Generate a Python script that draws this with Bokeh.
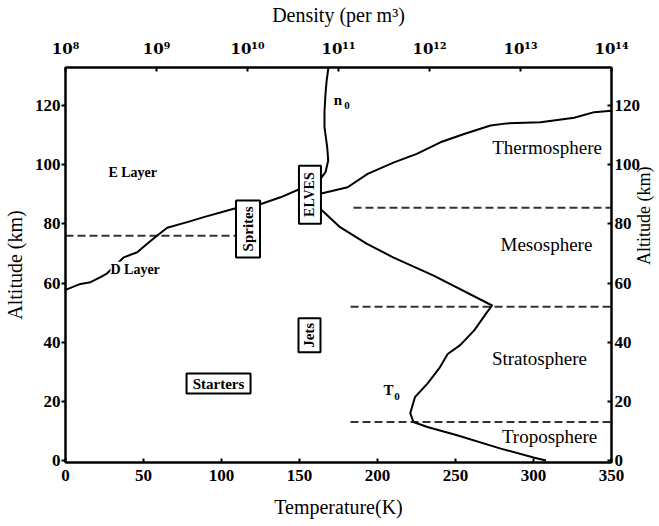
import numpy as np
from bokeh.plotting import figure
from bokeh.models import Range1d, LinearAxis, LogAxis, LogScale, FixedTicker
from bokeh.embed import file_html
from bokeh.resources import INLINE
from bokeh.core.properties import value
from bokeh.models import Label

# ---------------- data ----------------
# Temperature profile T0 (K) vs altitude (km)
t0_temp = [308, 300, 279, 251, 232, 223, 221, 224, 232, 240, 245, 253, 262, 270, 273.5,
           236, 210, 193, 176, 164.5, 158]
t0_alt = [0, 1, 4, 8.5, 11.3, 13, 16, 21.4, 26, 31.5, 36, 39, 44, 50, 52.4,
          62.5, 68.7, 73.3, 78.9, 84.5, 87]

# Ionisation (D / E layer -> thermosphere) curve on density axis: log10(density), altitude
ne_logd = [8.0, 8.165, 8.275, 8.385, 8.458, 8.641, 8.788, 8.898, 9.008, 9.118, 9.337,
           9.520, 9.849, 10.124, 10.363, 10.582, 10.80, 11.10, 11.32, 11.61, 11.86,
           12.12, 12.38, 12.67, 12.85, 13.22, 13.59, 13.81, 14.0]
ne_alt = [57.7, 59.7, 60.3, 62.0, 63.3, 68.7, 70.4, 73.3, 76.1, 78.7, 80.6,
          82.3, 85.1, 86.5, 89.0, 91.9, 90.2, 92.4, 96.9, 100.8, 103.7,
          107.6, 110.4, 113.3, 114.0, 114.4, 115.9, 117.8, 118.3]

# Neutral density n0: log10(density), altitude
n0_logd = [10.89, 10.87, 10.857, 10.846, 10.846, 10.876, 10.887, 10.857, 10.82, 10.78]
n0_alt = [133, 128.5, 124, 118, 112.7, 105.9, 101.4, 97.5, 96, 94]

# Dashed boundaries: altitude, start / end temperature
bound_alt = [76, 85.5, 52, 13]
bound_t0 = [0, 184.6, 182.7, 182.7]
bound_t1 = [109.4, 350, 350, 350]

# Region names
region_names = ["Thermosphere", "Mesosphere", "Stratosphere", "Troposphere"]
region_t = [308.7, 308.3, 303.8, 310.3]
region_alt = [105.8, 73.0, 34.5, 8.2]

# Boxed phenomena
event_names = ["Sprites", "ELVES", "Jets", "Starters"]
event_t = [117.0, 156.7, 156.4, 98.1]
event_alt = [78.3, 89.9, 42.3, 26.0]

# Ticks
temp_ticks = [0, 50, 100, 150, 200, 250, 300, 350]
alt_ticks = [0, 20, 40, 60, 80, 100, 120]
dens_exps = [8, 9, 10, 11, 12, 13, 14]
sup = {8: "⁸", 9: "⁹", 10: "¹⁰", 11: "¹¹", 12: "¹²", 13: "¹³", 14: "¹⁴"}

# ---------------- styling ----------------
SERIF = "Liberation Serif"
BOX_W = [24, 22, 22, 64]
BOX_H = [57, 58, 34, 20]
BOX_ANG = [np.pi / 2, np.pi / 2, np.pi / 2, 0]
BOX_FS = ["15px", "14px", "15px", "15px"]

p = figure(frame_width=546, frame_height=395,
           x_range=Range1d(0, 350), y_range=Range1d(-0.7, 132.9),
           output_backend="svg", toolbar_location=None,
           min_border_left=0, min_border_right=0, min_border_top=0, min_border_bottom=0)
p.extra_x_ranges = {"dens": Range1d(1e8, 1e14)}
p.extra_x_scales = {"dens": LogScale()}
p.xgrid.visible = False
p.ygrid.visible = False
p.outline_line_color = "black"
p.outline_line_width = 2
p.background_fill_color = "white"
p.border_fill_color = "white"


def style(ax, tin, tout, standoff, lstandoff, lsize="20px", font=SERIF, fsize="17px"):
    ax.axis_line_color = "black"
    ax.axis_line_width = 2
    ax.major_tick_line_color = "black"
    ax.major_tick_line_width = 2
    ax.major_tick_in = tin
    ax.major_tick_out = tout
    ax.minor_tick_line_color = None
    ax.major_label_text_font = font
    ax.major_label_text_font_style = "bold"
    ax.major_label_text_font_size = fsize
    ax.major_label_text_color = "black"
    ax.axis_label_text_font = SERIF
    ax.axis_label_text_font_style = "normal"
    ax.axis_label_text_font_size = lsize
    ax.axis_label_text_color = "black"
    ax.major_label_standoff = standoff
    ax.axis_label_standoff = lstandoff


xb = p.xaxis[0]
xb.ticker = FixedTicker(ticks=temp_ticks)
xb.axis_label = "Temperature(K)"
style(xb, 4, 0, 7, 12)

yl = p.yaxis[0]
yl.ticker = FixedTicker(ticks=alt_ticks)
yl.axis_label = "Altitude (km)"
style(yl, 0, 4, 1, 6)

yr = LinearAxis(ticker=FixedTicker(ticks=alt_ticks), axis_label="Altitude (km)")
style(yr, 4, 0, 3, 1, lsize="18px")
if "axis_label_orientation" in yr.properties():
    yr.axis_label_orientation = float(np.pi / 2)
p.add_layout(yr, "right")

xt = LogAxis(x_range_name="dens", ticker=FixedTicker(ticks=[10.0 ** e for e in dens_exps]),
             axis_label="Density (per m³)")
xt.major_label_overrides = {float(10.0 ** e): "10" + sup[e] for e in dens_exps}
style(xt, 4, 0, 10, 11, font="DejaVu Serif", fsize="15px")
p.add_layout(xt, "above")

# dashed boundaries
p.segment(x0=bound_t0, y0=bound_alt, x1=bound_t1, y1=bound_alt,
          line_color="#333333", line_width=2, line_dash="8 4")

# curves
p.line(t0_temp, t0_alt, line_color="black", line_width=2)
p.line([10.0 ** v for v in ne_logd], ne_alt, x_range_name="dens", line_color="black", line_width=2)
p.line([10.0 ** v for v in n0_logd], n0_alt, x_range_name="dens", line_color="black", line_width=2)

# boxed labels
p.rect(x=event_t, y=event_alt, width=BOX_W, height=BOX_H,
       width_units="screen", height_units="screen",
       fill_color="white", line_color="black", line_width=2)
p.text(x=event_t, y=event_alt, text=event_names, angle=BOX_ANG,
       text_align="center", text_baseline="middle",
       text_font=value(SERIF), text_font_style="bold", text_font_size=BOX_FS, text_color="black")

# region names
p.text(x=region_t, y=region_alt, text=region_names, text_align="center", text_baseline="middle",
       text_font=value(SERIF), text_font_size="19px", text_color="black")

# layer labels
p.text(x=[27.5], y=[97.4], text=["E Layer"], text_align="left", text_baseline="middle",
       text_font=value(SERIF), text_font_style="bold", text_font_size="14px", text_color="black")
p.add_layout(Label(x=28.8, y=64.7, text="D Layer", text_align="left", text_baseline="middle",
                   text_font=SERIF, text_font_style="bold", text_font_size="14px",
                   text_color="black", background_fill_color="white"))

# curve names n0, T0
p.text(x=[174.7, 207.0], y=[122.0, 23.7], text=["n", "T"], text_align="center", text_baseline="middle",
       text_font=value(SERIF), text_font_style="bold", text_font_size="15px", text_color="black")
p.text(x=[180.5, 212.5], y=[120.2, 21.6], text=["0", "0"], text_align="center", text_baseline="middle",
       text_font=value(SERIF), text_font_style="bold", text_font_size="11px", text_color="black")

open("out.html", "w").write(file_html(p, INLINE))
